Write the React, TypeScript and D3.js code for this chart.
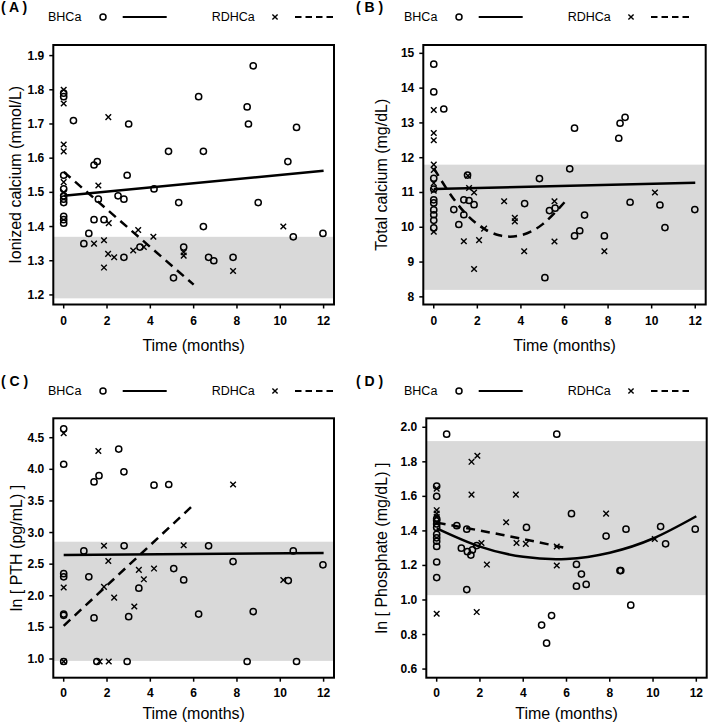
import React from "react";
import * as d3 from "d3";

// ---------- shared ----------
const monthTicks = [0, 2, 4, 6, 8, 10, 12];
const xDomain = [-0.48, 12.48];
const legendNames = ["BHCa", "RDHCa"];
const xTitle = "Time (months)";

// ---------- Panel A: ionized calcium ----------
const aTitle = "Ionized calcium (mmol/L)";
const aTicks = [1.2, 1.3, 1.4, 1.5, 1.6, 1.7, 1.8, 1.9];
const aTickLabels = ["1.2", "1.3", "1.4", "1.5", "1.6", "1.7", "1.8", "1.9"];
const aBand = [1.19, 1.37];
const aBhT = [0, 0, 0, 0, 0, 0, 0, 0, 0, 0, 0.45, 3.0, 4.84, 1.4, 1.55, 2.93, 4.17, 1.6, 2.51, 2.78, 5.31, 1.4, 1.86, 1.16, 0.93, 3.52, 2.78, 5.07, 8.75, 6.23, 8.47, 8.53, 10.75, 6.45, 10.35, 8.98, 6.45, 10.6, 11.97, 5.54, 6.69, 6.93, 7.82];
const aBhV = [1.79, 1.78, 1.55, 1.51, 1.49, 1.48, 1.47, 1.43, 1.42, 1.41, 1.71, 1.70, 1.62, 1.58, 1.59, 1.55, 1.51, 1.48, 1.49, 1.48, 1.47, 1.42, 1.42, 1.38, 1.35, 1.34, 1.31, 1.25, 1.87, 1.78, 1.75, 1.70, 1.69, 1.62, 1.59, 1.47, 1.40, 1.37, 1.38, 1.34, 1.31, 1.30, 1.31];
const aRdT = [0, 0, 0, 0, 0, 0, 2.06, 1.6, 2.08, 1.4, 1.86, 3.44, 3.7, 4.14, 2.05, 2.33, 3.21, 1.86, 10.14, 5.54, 5.54, 7.82];
const aRdV = [1.80, 1.76, 1.64, 1.62, 1.53, 1.50, 1.72, 1.52, 1.41, 1.35, 1.36, 1.39, 1.34, 1.37, 1.32, 1.31, 1.33, 1.28, 1.40, 1.325, 1.315, 1.27];
const aBhFitT = [0, 12];
const aBhFitV = [1.49, 1.563];
const aRdFitT = [0, 6];
const aRdFitV = [1.56, 1.23];

// ---------- Panel B: total calcium ----------
const bTitle = "Total calcium (mg/dL)";
const bTicks = [8, 9, 10, 11, 12, 13, 14, 15];
const bTickLabels = ["8", "9", "10", "11", "12", "13", "14", "15"];
const bBand = [8.2, 11.8];
const bBhT = [0, 0, 0, 0, 0, 0, 0, 0, 0, 0, 0.46, 0.92, 1.15, 1.38, 1.38, 1.55, 1.62, 1.85, 4.17, 4.85, 6.24, 6.46, 8.49, 8.55, 8.78, 9.01, 10.38, 11.98, 10.61, 5.31, 5.57, 6.92, 6.46, 6.7, 7.83, 5.1];
const bBhV = [14.69, 13.89, 11.41, 11.1, 10.79, 10.7, 10.5, 10.36, 10.2, 9.98, 13.4, 10.51, 10.08, 10.79, 10.36, 11.5, 10.77, 10.65, 10.68, 11.4, 11.68, 12.85, 12.56, 12.99, 13.16, 10.72, 10.64, 10.51, 9.99, 10.48, 10.55, 10.35, 9.75, 9.9, 9.75, 8.55];
const bRdT = [0, 0, 0, 0, 0, 0, 0, 0, 1.38, 1.57, 1.62, 1.85, 2.08, 1.85, 2.31, 3.23, 3.72, 3.72, 4.15, 10.15, 5.54, 5.54, 7.83];
const bRdV = [13.37, 12.71, 12.5, 11.8, 11.65, 11.27, 11.05, 9.87, 9.6, 11.48, 11.13, 11.0, 9.63, 8.8, 9.96, 10.75, 10.27, 10.17, 9.31, 11.0, 10.75, 9.59, 9.31];
const bBhFitT = [0, 12];
const bBhFitV = [11.1, 11.28];
const bRdFitT = [0, 1, 2, 3, 4, 5, 6];
const bRdFitV = [11.7, 10.74, 10.09, 9.77, 9.77, 10.09, 10.72];

// ---------- Panel C: ln PTH ----------
const cTitle = "ln [ PTH (pg/mL) ]";
const cTicks = [1.0, 1.5, 2.0, 2.5, 3.0, 3.5, 4.0, 4.5];
const cTickLabels = ["1.0", "1.5", "2.0", "2.5", "3.0", "3.5", "4.0", "4.5"];
const cBand = [0.97, 2.855];
const cBhT = [0, 0, 0, 0, 0, 0, 0, 1.4, 1.63, 2.54, 2.78, 4.17, 4.85, 0.93, 2.79, 1.16, 3.47, 5.08, 1.4, 3.0, 1.53, 2.93, 6.69, 10.6, 7.82, 11.97, 5.54, 10.37, 6.23, 8.75, 8.47, 10.75];
const cBhV = [4.64, 4.08, 2.35, 2.3, 1.71, 1.69, 0.96, 3.8, 3.9, 4.32, 3.96, 3.75, 3.76, 2.71, 2.79, 2.3, 2.12, 2.43, 1.65, 1.67, 0.96, 0.96, 2.79, 2.71, 2.54, 2.49, 2.25, 2.24, 1.71, 1.75, 0.96, 0.96];
const cRdT = [0, 0, 0, 1.6, 1.86, 2.06, 1.86, 2.33, 3.47, 3.7, 4.17, 3.26, 1.66, 2.08, 7.82, 5.54, 10.14];
const cRdV = [4.57, 2.13, 0.96, 4.29, 2.79, 2.55, 2.14, 1.97, 2.41, 2.26, 2.43, 1.83, 0.96, 0.96, 3.76, 2.8, 2.25];
const cBhFitT = [0, 12];
const cBhFitV = [2.645, 2.675];
const cRdFitT = [0, 6];
const cRdFitV = [1.525, 3.44];

// ---------- Panel D: ln phosphate ----------
const dTitle = "ln [ Phosphate (mg/dL) ]";
const dTicks = [0.6, 0.8, 1.0, 1.2, 1.4, 1.6, 1.8, 2.0];
const dTickLabels = ["0.6", "0.8", "1.0", "1.2", "1.4", "1.6", "1.8", "2.0"];
const dBand = [1.028, 1.92];
const dBhT = [0, 0, 0, 0, 0, 0, 0, 0, 0, 0, 0, 0, 0.46, 0.93, 4.15, 1.39, 1.14, 1.42, 1.58, 1.65, 1.85, 1.39, 5.55, 6.23, 7.83, 8.75, 10.35, 11.95, 10.58, 6.46, 6.69, 6.46, 6.91, 8.47, 8.51, 8.97, 5.31, 4.85, 5.08];
const dBhV = [1.66, 1.6, 1.47, 1.46, 1.44, 1.42, 1.38, 1.36, 1.34, 1.31, 1.22, 1.13, 1.96, 1.43, 1.42, 1.41, 1.3, 1.28, 1.26, 1.29, 1.315, 1.06, 1.96, 1.5, 1.37, 1.41, 1.425, 1.41, 1.325, 1.206, 1.15, 1.08, 1.09, 1.17, 1.17, 0.97, 0.91, 0.855, 0.75];
const dRdT = [0, 0, 0, 0, 0, 0, 1.61, 1.88, 1.61, 3.66, 3.21, 2.07, 3.69, 4.12, 2.32, 1.85, 7.83, 10.08, 5.55, 5.55];
const dRdV = [1.645, 1.52, 1.5, 1.48, 1.45, 0.92, 1.8, 1.835, 1.61, 1.61, 1.45, 1.33, 1.33, 1.325, 1.205, 0.93, 1.5, 1.353, 1.31, 1.2];
const dBhFitT = [0, 2, 4, 6, 8, 10, 12];
const dBhFitV = [1.415, 1.309, 1.25, 1.238, 1.274, 1.356, 1.485];
const dRdFitT = [0, 3, 6];
const dRdFitV = [1.448, 1.378, 1.3];

// ---------- layout ----------
const W = 709;
const H = 727;
const FONT = "'Liberation Sans', Arial, Helvetica, sans-serif";
const INK = "#000";

const zip = (t: number[], v: number[]) => t.map((d, i) => [d, v[i]] as [number, number]);

const panels = [
  {
    label: "( A )", title: aTitle, ticks: aTicks, tickLabels: aTickLabels, band: aBand,
    yDomain: [1.172, 1.931], box: [53.3, 45, 334, 304.5], labelX: 1, legendX: 0, topY: 0,
    tickBase: 325, titleBase: 351, yTitleOff: 32,
    bh: zip(aBhT, aBhV), rd: zip(aRdT, aRdV), bhFit: zip(aBhFitT, aBhFitV), rdFit: zip(aRdFitT, aRdFitV),
  },
  {
    label: "( B )", title: bTitle, ticks: bTicks, tickLabels: bTickLabels, band: bBand,
    yDomain: [7.78, 15.24], box: [423.3, 45, 705.7, 304.5], labelX: 356, legendX: 356, topY: 0,
    tickBase: 325, titleBase: 351, yTitleOff: 36,
    bh: zip(bBhT, bBhV), rd: zip(bRdT, bRdV), bhFit: zip(bBhFitT, bBhFitV), rdFit: zip(bRdFitT, bRdFitV),
  },
  {
    label: "( C )", title: cTitle, ticks: cTicks, tickLabels: cTickLabels, band: cBand,
    yDomain: [0.704, 4.807], box: [53.3, 418.3, 334, 677.7], labelX: 1, legendX: 0, topY: 374,
    tickBase: 697, titleBase: 719, yTitleOff: 31,
    bh: zip(cBhT, cBhV), rd: zip(cRdT, cRdV), bhFit: zip(cBhFitT, cBhFitV), rdFit: zip(cRdFitT, cRdFitV),
  },
  {
    label: "( D )", title: dTitle, ticks: dTicks, tickLabels: dTickLabels, band: dBand,
    yDomain: [0.55, 2.052], box: [426.3, 418.3, 706.7, 677.7], labelX: 356, legendX: 356, topY: 374,
    tickBase: 697, titleBase: 719, yTitleOff: 39,
    bh: zip(dBhT, dBhV), rd: zip(dRdT, dRdV), bhFit: zip(dBhFitT, dBhFitV), rdFit: zip(dRdFitT, dRdFitV),
  },
];

const Cross = ({ x, y, s = 2.8 }: { x: number; y: number; s?: number }) => (
  <path d={`M${x - s},${y - s}L${x + s},${y + s}M${x - s},${y + s}L${x + s},${y - s}`} stroke={INK} strokeWidth={1.4} fill="none" />
);

function Panel({ p }: { p: (typeof panels)[number] }) {
  const [L, T, R, B] = p.box;
  const x = d3.scaleLinear().domain(xDomain).range([L, R]);
  const y = d3.scaleLinear().domain(p.yDomain).range([B, T]);
  const line = d3.line<[number, number]>().x((d) => x(d[0])).y((d) => y(d[1])).curve(d3.curveNatural);
  const ly = p.topY + 17;
  const lx = p.legendX;
  return (
    <g fontFamily={FONT}>
      {/* panel label */}
      <text x={p.labelX} y={p.topY + 12} fontSize={14} fontWeight="bold" fill={INK}>{p.label}</text>
      {/* legend */}
      <text x={lx + 48} y={p.topY + 21} fontSize={12.5} fill={INK}>{legendNames[0]}</text>
      <circle cx={lx + 103} cy={ly} r={3} fill="none" stroke={INK} strokeWidth={1.5} />
      <line x1={lx + 122.7} x2={lx + 166.7} y1={ly} y2={ly} stroke={INK} strokeWidth={2.2} />
      <text x={lx + 211.7} y={p.topY + 21} fontSize={12.5} fill={INK}>{legendNames[1]}</text>
      <Cross x={lx + 275} y={ly} s={2.6} />
      <line x1={lx + 295} x2={lx + 333} y1={ly} y2={ly} stroke={INK} strokeWidth={2.2} strokeDasharray="6.5,4" />
      {/* reference band */}
      <rect x={L} y={y(p.band[1])} width={R - L} height={y(p.band[0]) - y(p.band[1])} fill="#d9d9d9" />
      {/* points */}
      {p.bh.map((d, i) => (
        <circle key={"c" + i} cx={x(d[0])} cy={y(d[1])} r={3.1} fill="none" stroke={INK} strokeWidth={1.5} />
      ))}
      {p.rd.map((d, i) => (
        <Cross key={"x" + i} x={x(d[0])} y={y(d[1])} />
      ))}
      {/* fits */}
      <path d={line(p.bhFit) || ""} fill="none" stroke={INK} strokeWidth={2.5} />
      <path d={line(p.rdFit) || ""} fill="none" stroke={INK} strokeWidth={2.5} strokeDasharray="9,6" />
      {/* box */}
      <rect x={L} y={T} width={R - L} height={B - T} fill="none" stroke={INK} strokeWidth={2} />
      {/* y axis */}
      {p.ticks.map((t, i) => (
        <g key={"yt" + i}>
          <line x1={L - 4} x2={L} y1={y(t)} y2={y(t)} stroke={INK} strokeWidth={1.5} />
          <text x={L - 9} y={y(t) + 4} fontSize={12} fontWeight="bold" textAnchor="end" fill={INK}>{p.tickLabels[i]}</text>
        </g>
      ))}
      {/* x axis */}
      {monthTicks.map((t) => (
        <g key={"xt" + t}>
          <line x1={x(t)} x2={x(t)} y1={B} y2={B + 4} stroke={INK} strokeWidth={1.5} />
          <text x={x(t)} y={p.tickBase} fontSize={12} fontWeight="bold" textAnchor="middle" fill={INK}>{t}</text>
        </g>
      ))}
      <text x={(L + R) / 2} y={p.titleBase} fontSize={16} textAnchor="middle" fill={INK}>{xTitle}</text>
      <text transform={`translate(${L - p.yTitleOff},${(T + B) / 2}) rotate(-90)`} fontSize={16} textAnchor="middle" fill={INK}>{p.title}</text>
    </g>
  );
}

export default function App() {
  return (
    <svg width={W} height={H} viewBox={`0 0 ${W} ${H}`} style={{ position: "absolute", left: 0, top: 0, background: "#fff" }}>
      <rect width={W} height={H} fill="#fff" />
      {panels.map((p, i) => (
        <Panel key={i} p={p} />
      ))}
    </svg>
  );
}
